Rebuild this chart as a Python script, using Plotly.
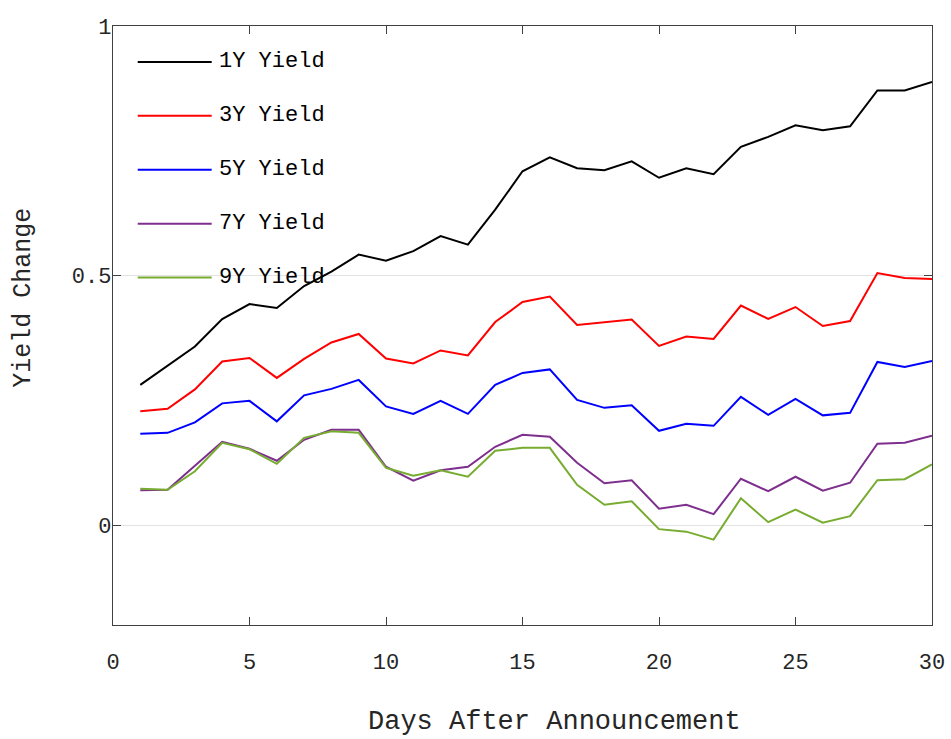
import plotly.graph_objects as go

days = list(range(1, 31))
series_names = ["1Y Yield", "3Y Yield", "5Y Yield", "7Y Yield", "9Y Yield"]
series_colors = ["#000000", "#FF0000", "#0000FF", "#7E2F8E", "#77AC30"]

y1 = [0.281, 0.320, 0.358, 0.413, 0.443, 0.435, 0.479, 0.508, 0.542, 0.530,
      0.549, 0.579, 0.562, 0.632, 0.709, 0.737, 0.715, 0.711, 0.729, 0.696,
      0.715, 0.703, 0.758, 0.778, 0.801, 0.791, 0.799, 0.871, 0.871, 0.888]
y3 = [0.228, 0.233, 0.272, 0.328, 0.335, 0.295, 0.333, 0.366, 0.383, 0.334,
      0.324, 0.350, 0.340, 0.407, 0.447, 0.458, 0.401, 0.406, 0.412, 0.359,
      0.378, 0.373, 0.440, 0.413, 0.437, 0.399, 0.409, 0.505, 0.495, 0.493]
y5 = [0.183, 0.185, 0.206, 0.244, 0.249, 0.208, 0.260, 0.273, 0.291, 0.238,
      0.223, 0.249, 0.223, 0.281, 0.305, 0.312, 0.251, 0.235, 0.240, 0.189,
      0.203, 0.199, 0.257, 0.221, 0.253, 0.220, 0.225, 0.327, 0.317, 0.329]
y7 = [0.070, 0.071, 0.119, 0.167, 0.153, 0.129, 0.171, 0.191, 0.191, 0.117,
      0.089, 0.110, 0.117, 0.157, 0.181, 0.177, 0.125, 0.084, 0.090, 0.033,
      0.041, 0.022, 0.093, 0.068, 0.097, 0.069, 0.085, 0.163, 0.165, 0.179]
y9 = [0.073, 0.071, 0.108, 0.165, 0.152, 0.123, 0.175, 0.188, 0.185, 0.115,
      0.099, 0.110, 0.097, 0.149, 0.155, 0.155, 0.081, 0.041, 0.048, -0.008,
      -0.013, -0.029, 0.054, 0.006, 0.031, 0.005, 0.018, 0.090, 0.092, 0.122]

x_ticks = [0, 5, 10, 15, 20, 25, 30]
y_ticks = [0, 0.5, 1]
y_tick_labels = ["0", "0.5", "1"]
x_title = "Days After Announcement"
y_title = "Yield Change"

FONT = "Courier New, Courier, Liberation Mono, monospace"
AXIS_COLOR = "#404040"

fig = go.Figure()
all_series = [y1, y3, y5, y7, y9]
for name, color, vals in zip(series_names, series_colors, all_series):
    fig.add_trace(go.Scatter(x=days, y=vals, mode="lines", name=name,
                             line=dict(color=color, width=2), showlegend=False))

# manual legend (long line samples like the reference)
shapes = []
annotations = []
for i, (name, color) in enumerate(zip(series_names, series_colors)):
    yp = 0.940 - i * 0.0900
    shapes.append(dict(type="line", xref="paper", yref="paper",
                       x0=0.0302, x1=0.1205, y0=yp, y1=yp,
                       line=dict(color=color, width=2)))
    annotations.append(dict(text=name, xref="paper", yref="paper",
                            x=0.127, y=yp, xanchor="left", yanchor="middle",
                            showarrow=False, font=dict(family=FONT, size=22, color="#000000")))

annotations.append(dict(text=x_title, xref="paper", yref="paper", x=0.539, y=-0.162,
                        xanchor="center", yanchor="middle", showarrow=False,
                        font=dict(family=FONT, size=27, color="#262626")))
annotations.append(dict(text=y_title, xref="paper", yref="paper", x=-0.109, y=0.546,
                        xanchor="center", yanchor="middle", showarrow=False, textangle=-90,
                        font=dict(family=FONT, size=25, color="#262626")))

fig.update_layout(
    width=951, height=739,
    margin=dict(l=113, r=19, t=26, b=114, autoexpand=False),
    paper_bgcolor="white", plot_bgcolor="white",
    font=dict(family=FONT, size=22, color="#262626"),
    shapes=shapes, annotations=annotations,
    showlegend=False,
)
fig.update_xaxes(range=[0, 30], tickvals=x_ticks, ticks="inside", ticklen=8,
                 tickcolor=AXIS_COLOR, tickwidth=1.3, automargin=False,
                 showline=True, linecolor=AXIS_COLOR, linewidth=1.3, mirror="allticks",
                 showgrid=False, zeroline=False, ticklabelstandoff=16,
                 tickfont=dict(family=FONT, size=22, color="#262626"))
fig.update_yaxes(range=[-0.2, 1], tickvals=y_ticks, ticktext=y_tick_labels,
                 ticks="inside", ticklen=8, tickcolor=AXIS_COLOR, tickwidth=1.3,
                 automargin=False,
                 showline=True, linecolor=AXIS_COLOR, linewidth=1.3, mirror="allticks",
                 showgrid=True, gridcolor="#E3E3E3", gridwidth=1, zeroline=False,
                 ticklabelstandoff=-4,
                 tickfont=dict(family=FONT, size=22, color="#262626"))

fig.write_html("out.html", config={"displayModeBar": False},
               post_script="document.body.style.margin='0';document.body.style.overflow='hidden';")
